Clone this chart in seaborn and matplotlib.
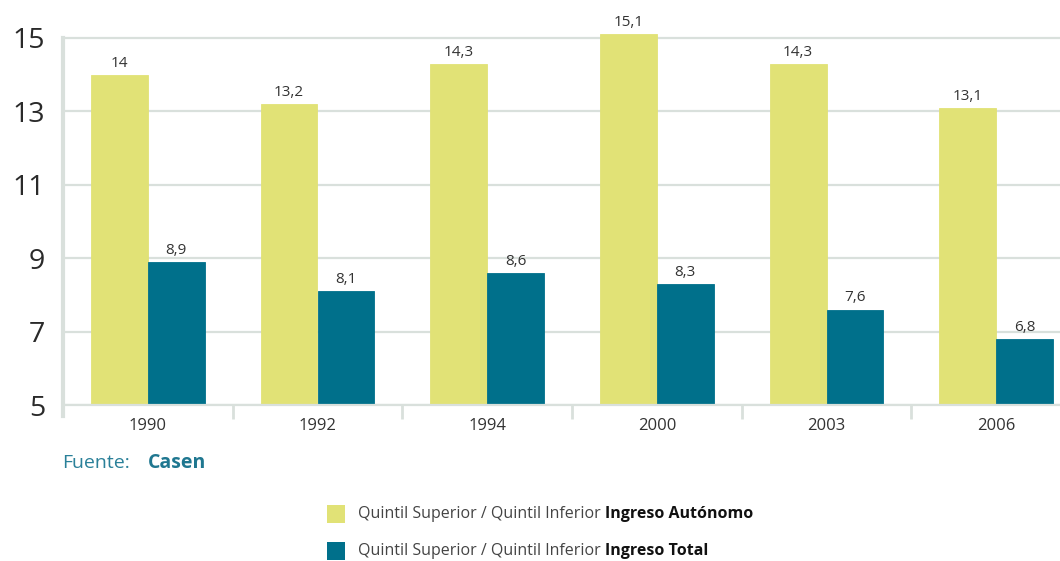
import numpy as np
import pandas as pd
import matplotlib
matplotlib.use("Agg")
import matplotlib.pyplot as plt
import seaborn as sns
from matplotlib.patches import Rectangle
from matplotlib.ticker import FixedLocator

# data
years = ["1990", "1992", "1994", "2000", "2003", "2006"]
autonomo = [14, 13.2, 14.3, 15.1, 14.3, 13.1]
total = [8.9, 8.1, 8.6, 8.3, 7.6, 6.8]
series = ["Ingreso Autónomo", "Ingreso Total"]
y_ticks = [5, 7, 9, 11, 13, 15]

YELLOW = "#e1e276"
TEAL = "#00708b"
GRID = "#d9e0dc"
TXT = "#333333"

df = pd.DataFrame({
    "year": years * 2,
    "value": autonomo + total,
    "serie": [series[0]] * len(years) + [series[1]] * len(years),
})

sns.set_theme(style="white")
plt.rcParams["font.family"] = ["Open Sans", "DejaVu Sans"]

fig = plt.figure(figsize=(10.6, 5.61), dpi=100)
top_px = 38 - 0.1 * 36.7
# the plot area runs past the right edge of the image, as in the reference
ax = fig.add_axes([63 / 1060, 1 - 405 / 561, (1081 - 63) / 1060, (405 - top_px) / 561])

sns.barplot(data=df, x="year", y="value", hue="serie", order=years,
            hue_order=series, palette=[YELLOW, TEAL], width=0.67,
            saturation=1, legend=False, ax=ax)

# no white seam between the paired bars
for bar in ax.patches:
    bar.set_edgecolor(bar.get_facecolor())
    bar.set_linewidth(0.6)

ax.set_ylim(5, 15.1)
ax.set_xlim(-0.5, len(years) - 0.5)
ax.set_yticks(y_ticks)
ax.set_yticklabels([str(t) for t in y_ticks], fontsize=20.5, color="#2a2a2a")
ax.set_xticks(range(len(years)))
ax.set_xticklabels(years, fontsize=12, color=TXT)
ax.tick_params(axis="x", length=0, pad=9)
ax.tick_params(axis="y", length=9, color=GRID, width=2, pad=4)
ax.xaxis.set_minor_locator(FixedLocator(np.arange(0.5, len(years) - 1, 1)))
ax.tick_params(axis="x", which="minor", length=10, color=GRID, width=2, bottom=True)
ax.set_xlabel("")
ax.set_ylabel("")

ax.grid(axis="y", color=GRID, linewidth=1.6)
ax.set_axisbelow(True)
for s in ["top", "right"]:
    ax.spines[s].set_visible(False)
ax.spines["left"].set_color(GRID)
ax.spines["left"].set_linewidth(3)
ax.spines["left"].set_bounds(4.7, 15)
ax.spines["bottom"].set_color(GRID)
ax.spines["bottom"].set_linewidth(1.6)

for cont in ax.containers:
    for bar in cont:
        h = bar.get_height()
        lab = f"{h:g}".replace(".", ",")
        ax.annotate(lab, (bar.get_x() + bar.get_width() / 2, h),
                    xytext=(0, 3), textcoords="offset points",
                    ha="center", va="bottom", fontsize=11, color=TXT)

fig.text(62 / 1060, 1 - 463 / 561, "Fuente:", fontsize=14, color="#2a8099",
         va="center", ha="left")
fig.text(148 / 1060, 1 - 463 / 561, "Casen", fontsize=14, color="#1f7790",
         va="center", ha="left", fontweight="bold")

# legend
renderer = fig.canvas.get_renderer()
for i, (name, col) in enumerate(zip(series, [YELLOW, TEAL])):
    yc = 1 - (514 + 37 * i) / 561
    fig.patches.append(Rectangle((327 / 1060, yc - 9 / 561), 18 / 1060, 18 / 561,
                                 transform=fig.transFigure, facecolor=col,
                                 edgecolor="none"))
    t = fig.text(358 / 1060, yc, "Quintil Superior / Quintil Inferior ",
                 fontsize=11.5, color="#444444", va="center", ha="left")
    bb = t.get_window_extent(renderer)
    fig.text(bb.x1 / fig.bbox.width, yc, name, fontsize=11.5, color="#111111",
             va="center", ha="left", fontweight="bold")

fig.savefig("out.png", dpi=100)
